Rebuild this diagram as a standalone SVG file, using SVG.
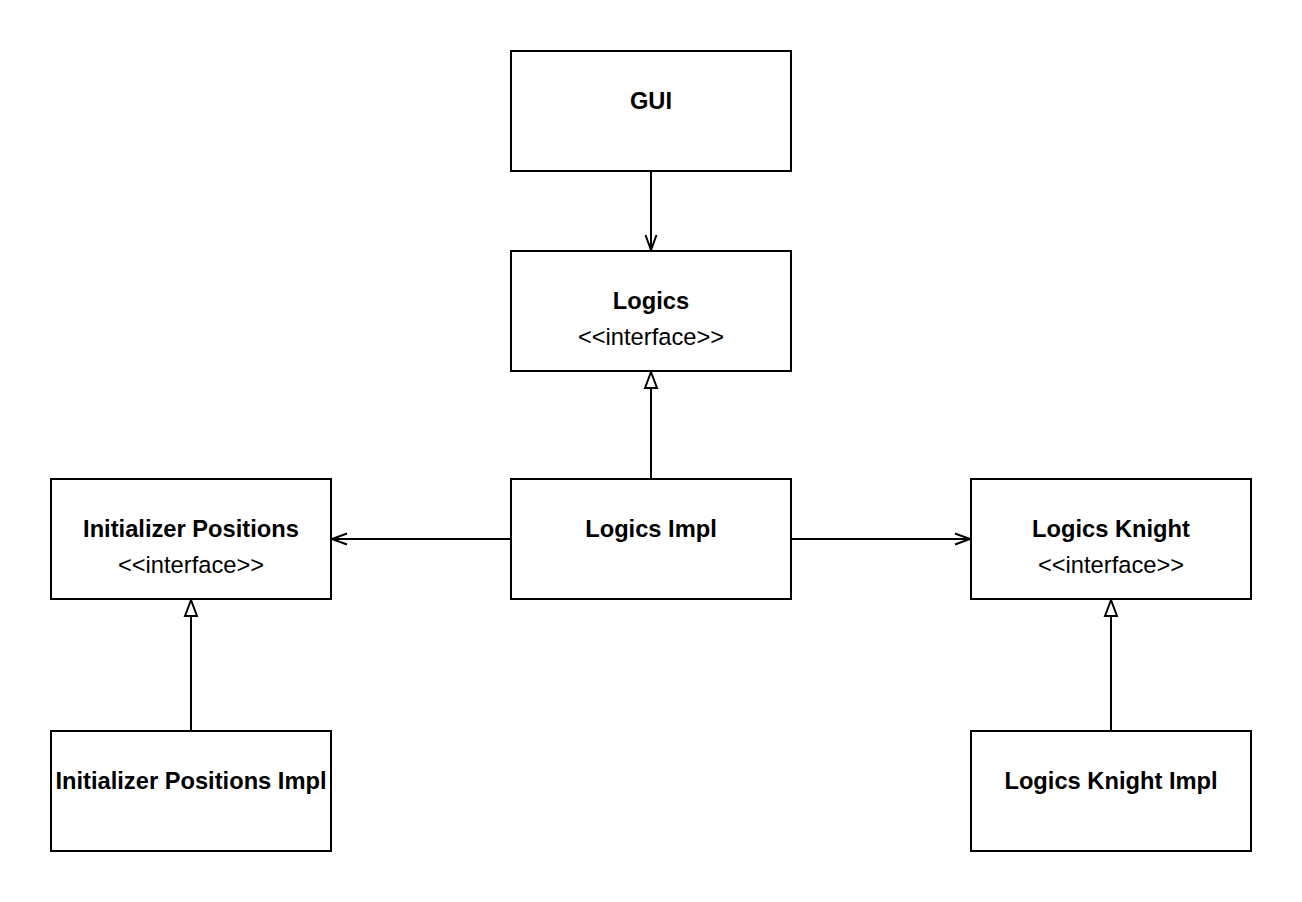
<svg xmlns="http://www.w3.org/2000/svg" width="1302" height="902" viewBox="0 0 1302 902">
<style>
.box{fill:#fff;stroke:#000;stroke-width:2}
.t{font-family:"Liberation Sans",Arial,sans-serif;font-size:23.7px;text-anchor:middle;fill:#000}
.b{font-weight:bold}
.edge{fill:none;stroke:#000;stroke-width:2}
</style>
<defs>
<marker id="open" markerUnits="userSpaceOnUse" markerWidth="20" markerHeight="14" refX="16" refY="6" orient="auto" viewBox="0 0 20 12">
<path d="M1,0.5 L16,6 L1,11.5" fill="none" stroke="#000" stroke-width="2"/>
</marker>
<marker id="tri" markerUnits="userSpaceOnUse" markerWidth="20" markerHeight="16" refX="17" refY="7" orient="auto" viewBox="0 0 20 14">
<path d="M1,1 L17,7 L1,13 Z" fill="#fff" stroke="#000" stroke-width="2"/>
</marker>
</defs>
<rect width="1302" height="902" fill="#fff"/>
<g id="connectors">
<line class="edge" x1="651" y1="171" x2="651" y2="250" marker-end="url(#open)"/>
<line class="edge" x1="651" y1="479" x2="651" y2="372" marker-end="url(#tri)"/>
<line class="edge" x1="511" y1="539" x2="332" y2="539" marker-end="url(#open)"/>
<line class="edge" x1="791" y1="539" x2="970" y2="539" marker-end="url(#open)"/>
<line class="edge" x1="191" y1="731" x2="191" y2="600" marker-end="url(#tri)"/>
<line class="edge" x1="1111" y1="731" x2="1111" y2="600" marker-end="url(#tri)"/>
</g>
<g id="gui">
<rect class="box" x="511" y="51" width="280" height="120"/>
<text class="t b" x="651" y="109">GUI</text>
</g>
<g id="logics">
<rect class="box" x="511" y="251" width="280" height="120"/>
<text class="t b" x="651" y="309">Logics</text>
<text class="t" x="651" y="345">&lt;&lt;interface&gt;&gt;</text>
</g>
<g id="logics-impl">
<rect class="box" x="511" y="479" width="280" height="120"/>
<text class="t b" x="651" y="537">Logics Impl</text>
</g>
<g id="initializer-positions">
<rect class="box" x="51" y="479" width="280" height="120"/>
<text class="t b" x="191" y="537">Initializer Positions</text>
<text class="t" x="191" y="573">&lt;&lt;interface&gt;&gt;</text>
</g>
<g id="logics-knight">
<rect class="box" x="971" y="479" width="280" height="120"/>
<text class="t b" x="1111" y="537">Logics Knight</text>
<text class="t" x="1111" y="573">&lt;&lt;interface&gt;&gt;</text>
</g>
<g id="initializer-positions-impl">
<rect class="box" x="51" y="731" width="280" height="120"/>
<text class="t b" x="191" y="789">Initializer Positions Impl</text>
</g>
<g id="logics-knight-impl">
<rect class="box" x="971" y="731" width="280" height="120"/>
<text class="t b" x="1111" y="789">Logics Knight Impl</text>
</g>
</svg>
